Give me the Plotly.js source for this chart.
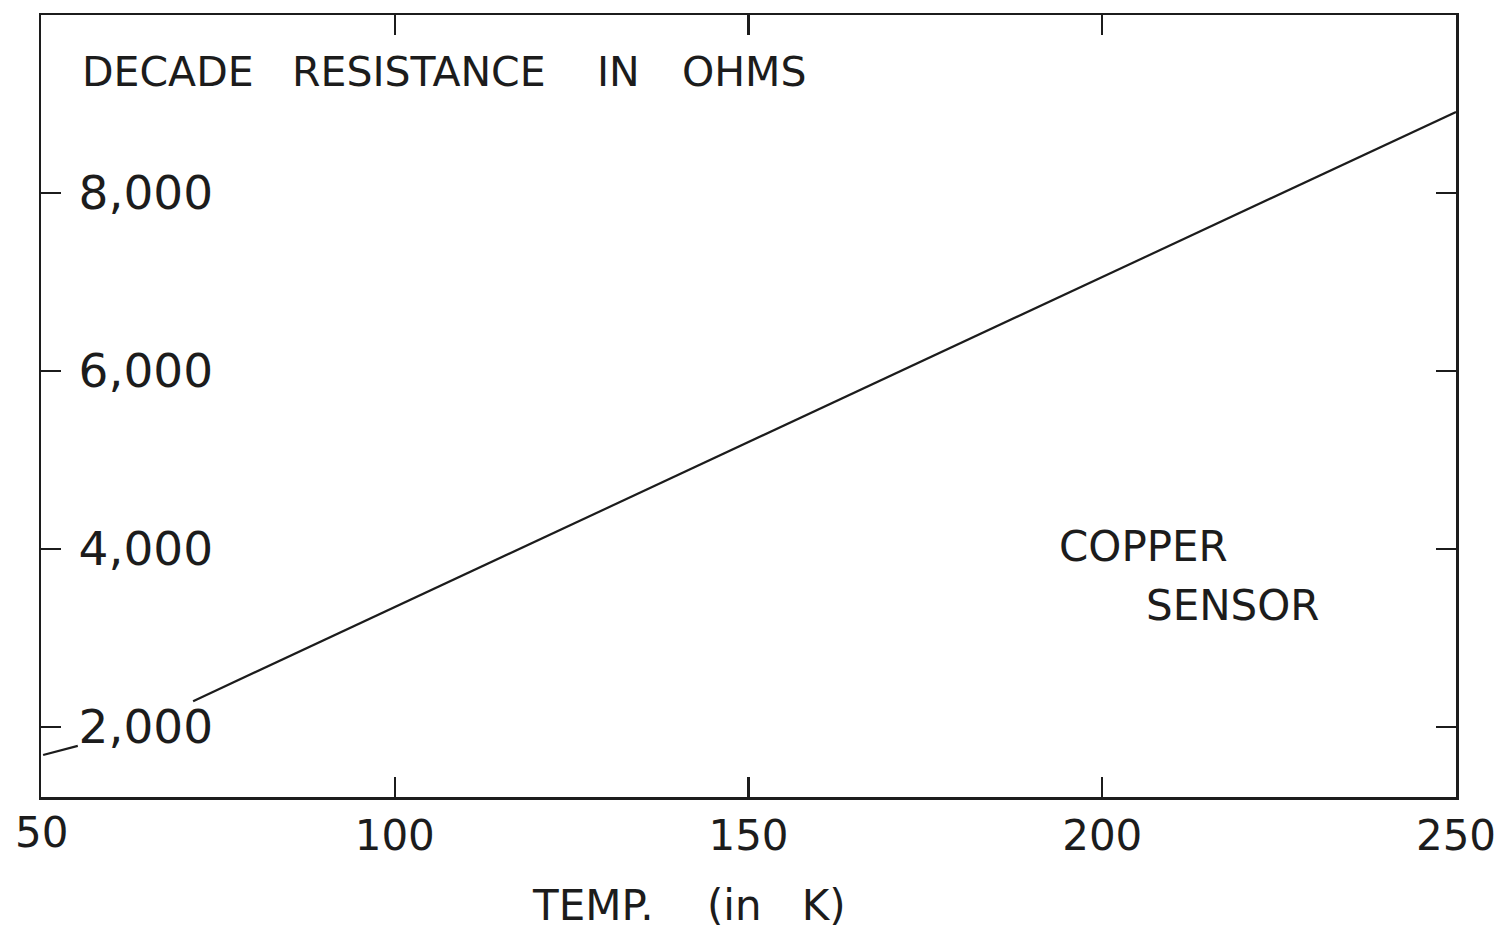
<!DOCTYPE html>
<html>
<head>
<meta charset="utf-8">
<script src="https://cdn.plot.ly/plotly-3.0.1.min.js"></script>
<style>
  html, body { margin: 0; padding: 0; background: #ffffff; }
  #chart { width: 1507px; height: 931px; }
</style>
</head>
<body>
<div id="chart"></div>
<script>
// Copper sensor calibration line
const tempK = [71.5, 250];
const decadeOhms = [2290, 8910];
// short stub drawn near the left edge below the 2,000 tick
const stubTempK = [50.3, 55.2];
const stubOhms = [1685, 1787];

const xTickVals = [50, 100, 150, 200, 250];
const xTickText = ["50", "100", "150", "200", "250"];
const yTickVals = [2000, 4000, 6000, 8000];
const yTickText = ["2,000", "4,000", "6,000", "8,000"];

const yTitleWords = ["DECADE", "RESISTANCE", "IN", "OHMS"];
const xTitle = "TEMP.\u00a0\u00a0\u00a0\u00a0(in\u00a0\u00a0\u00a0K)";
const curveLabel = ["COPPER", "SENSOR"];

const ink = "#1c1c1c";
const font = "DejaVu Sans, Liberation Sans, sans-serif";

const traces = [
  {
    x: tempK, y: decadeOhms, type: "scatter", mode: "lines",
    line: { color: ink, width: 2.2 }, hoverinfo: "skip", showlegend: false
  },
  {
    x: stubTempK, y: stubOhms, type: "scatter", mode: "lines",
    line: { color: ink, width: 2.2 }, hoverinfo: "skip", showlegend: false
  }
];

const plotL = 41, plotR = 1456, plotT = 15, plotB = 797;
const wordPx = [80, 290, 595, 680];
const annotations = [];
yTitleWords.forEach((w, i) => {
  annotations.push({
    text: w, xref: "paper", yref: "paper",
    x: (wordPx[i] - plotL) / (plotR - plotL), y: (plotB - 72) / (plotB - plotT),
    xanchor: "left", yanchor: "middle", showarrow: false,
    font: { family: font, size: 41, color: ink }
  });
});
annotations.push({
  text: curveLabel[0], x: 193.6, y: 4030, xref: "x", yref: "y",
  xanchor: "left", yanchor: "middle", showarrow: false,
  font: { family: font, size: 42, color: ink }
});
annotations.push({
  text: curveLabel[1], x: 205.9, y: 3370, xref: "x", yref: "y",
  xanchor: "left", yanchor: "middle", showarrow: false,
  font: { family: font, size: 42, color: ink }
});
annotations.push({
  text: xTitle, xref: "paper", yref: "paper",
  x: (530 - plotL) / (plotR - plotL), y: -(905 - plotB) / (plotB - plotT),
  xanchor: "left", yanchor: "middle", showarrow: false,
  font: { family: font, size: 42, color: ink }
});
// first x tick label (hidden by Plotly at the corner), drawn as annotation
annotations.push({
  text: xTickText[0], x: xTickVals[0], xref: "x", yref: "paper",
  y: -(832 - plotB) / (plotB - plotT),
  xanchor: "center", yanchor: "middle", showarrow: false,
  font: { family: font, size: 42, color: ink }
});

const layout = {
  width: 1507, height: 931,
  margin: { l: plotL, r: 1507 - plotR, t: plotT, b: 931 - plotB },
  paper_bgcolor: "#ffffff", plot_bgcolor: "#ffffff",
  showlegend: false,
  font: { family: font, color: ink },
  xaxis: {
    range: [50, 250], tickvals: xTickVals, ticktext: xTickText,
    ticks: "inside", ticklen: 20, tickwidth: 2.2, tickcolor: ink,
    showline: true, linewidth: 2.5, linecolor: ink, mirror: "ticks",
    showgrid: false, zeroline: false,
    tickfont: { family: font, size: 42, color: ink },
    ticklabelstandoff: 0
  },
  yaxis: {
    range: [1213, 10000], tickvals: yTickVals, ticktext: yTickText,
    ticks: "inside", ticklen: 20, tickwidth: 2.2, tickcolor: ink,
    showline: true, linewidth: 2.5, linecolor: ink, mirror: "ticks",
    showgrid: false, zeroline: false,
    ticklabelposition: "inside",
    ticklabelstandoff: 24,
    tickfont: { family: font, size: 47, color: ink }
  },
  annotations: annotations
};

Plotly.newPlot("chart", traces, layout, { staticPlot: true, displayModeBar: false });
</script>
</body>
</html>
